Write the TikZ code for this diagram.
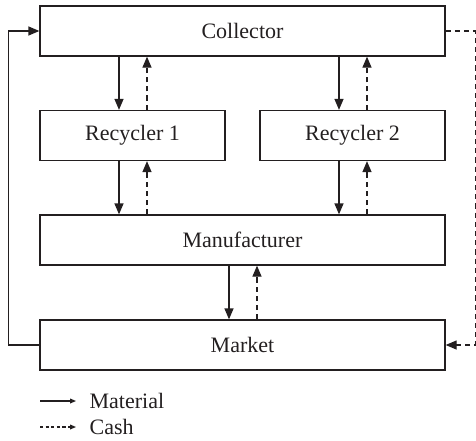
\documentclass[tikz,border=0pt]{standalone}
\usepackage{fontspec}
\setmainfont{Liberation Serif}
\usetikzlibrary{arrows.meta,calc}
\definecolor{ink}{HTML}{231F20}
\tikzset{
  box/.style={draw=ink,line width=0.65pt,minimum height=25pt,inner sep=0pt,font=\fontsize{11}{13}\selectfont,text=ink},
  mat/.style={draw=ink,line width=0.65pt,-{Triangle[length=5.5pt,width=4.5pt]}},
  cash/.style={mat,dash pattern=on 2.6pt off 2pt},
  legmat/.style={draw=ink,line width=0.6pt,-{Triangle[length=3pt,width=2.4pt]}},
  legcash/.style={legmat,dash pattern=on 1.6pt off 1.2pt}
}
\begin{document}
\begin{tikzpicture}[x=0.5pt,y=-0.5pt]
		\useasboundingbox (0,0) rectangle (476,440);
		% boxes
		\node[box,minimum width=202.5pt] (coll) at (242.5,31) {Collector};
		\node[box,minimum width=92.5pt] (rec1) at (132.5,135.5) {Recycler 1};
		\node[box,minimum width=92.5pt] (rec2) at (352.5,135.5) {Recycler 2};
		\node[box,minimum width=202.5pt] (manu) at (242.5,240) {Manufacturer};
		\node[box,minimum width=202.5pt] (mkt) at (242.5,345) {Market};
		% flows between levels
		\foreach \up/\low/\x in {coll/rec1/rec1,coll/rec2/rec2,rec1/manu/rec1,rec2/manu/rec2,manu/mkt/manu}{
			\coordinate (ma) at ($(\x.center)+(-13.5,0)$);
			\coordinate (ca) at ($(\x.center)+(14.5,0)$);
			\draw[mat] (ma |- \up.south) -- (ma |- \low.north);
			\draw[cash] (ca |- \low.north) -- (ca |- \up.south);
		}
		% loops round the side
		\draw[mat] (mkt.west) -- ++(-31,0) |- (coll.west);
		\draw[cash] (coll.east) -- ++(30,0) |- (mkt.east);
		% legend
		\coordinate (l1) at (40,401);
		\coordinate (l2) at (40,427);
		\draw[legmat] (l1) -- ++(36,0) node[right,inner sep=0pt,xshift=6.5pt,text=ink,font=\fontsize{11}{13}\selectfont] {Material};
		\draw[legcash] (l2) -- ++(36,0) node[right,inner sep=0pt,xshift=6.5pt,text=ink,font=\fontsize{11}{13}\selectfont] {Cash};
\end{tikzpicture}
\end{document}
